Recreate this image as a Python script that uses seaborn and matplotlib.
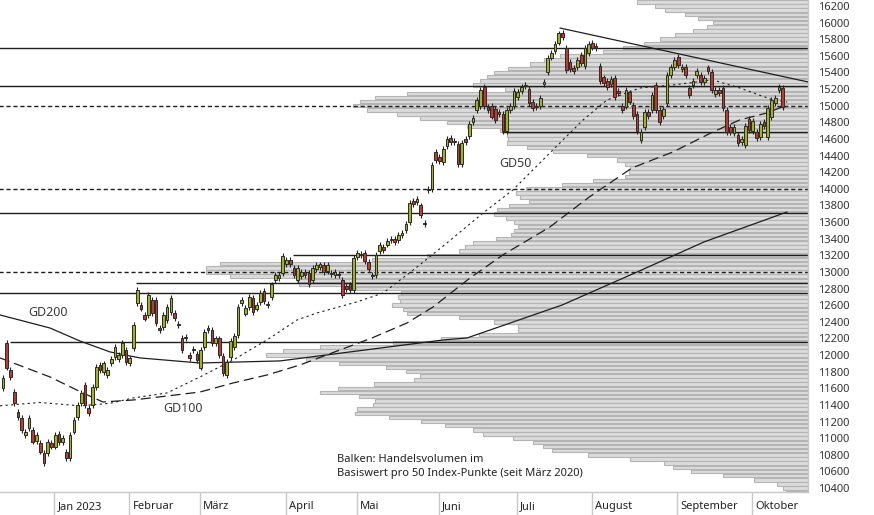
import numpy as np
import matplotlib
matplotlib.use('Agg')
import matplotlib.pyplot as plt
import matplotlib.transforms as mtrans
import seaborn as sns

# --- Kerzen (Handelstage 12.12.2022 - 12.10.2023) ---
opens = [11600, 12150, 11820, 11560, 11320, 11240, 11040, 11120, 11100, 10970, 10940, 10820, 10820, 10940,
         10900, 11050, 10950, 10840, 10760, 11080, 11260, 11420, 11640, 11360, 11400, 11620, 11880, 11800,
         11760, 11900, 11980, 11950, 12000, 12060,
         11900, 12080, 12630, 12600, 12480, 12480, 12660, 12660, 12330, 12340, 12420, 12520, 12510, 12380,
         12210, 12220, 12000, 12070, 12010,
         11850, 12100, 12330, 12300, 12150, 12200, 11990, 11760, 11980, 12100, 12240, 12630, 12500, 12580,
         12690, 12560, 12640, 12770, 12620, 12700, 12900, 12930, 12990,
         13100, 13150, 13050, 12900, 12950, 13000, 12990, 12900, 13030, 13060, 13080, 13010, 12980, 12960,
         12980, 12900, 12830, 12850, 12780,
         13180, 13200, 13230, 13120, 12960, 12960, 13250, 13300, 13330, 13380, 13400, 13380, 13440, 13500,
         13600, 13850, 13840, 13800, 13590, 13990, 14000, 14440,
         14380, 14320, 14520, 14610, 14560, 14540, 14300, 14600, 14640, 14800, 14950, 15000, 15230, 14990,
         15000, 14960, 14920, 14900, 14700, 14950, 15000,
         15100, 15180, 15240, 15200, 15050, 14980, 15000, 15260, 15400, 15580, 15660, 15760, 15880, 15700,
         15530, 15450, 15470, 15610, 15480, 15630,
         15760, 15720, 15480, 15340, 15300, 15260, 15330, 15180, 15000, 14990, 15160, 15010, 14900, 14590,
         14745, 14920, 14950, 15250, 14950, 14880, 15030, 15370, 15460,
         15590, 15440, 15465, 15210, 15250, 15370, 15370, 15290, 15460, 15405, 15140, 15190, 15215, 14950,
         14745, 14670, 14650, 14560, 14530, 14845,
         14700, 14685, 14620, 14800, 14625, 14865, 15030, 15190, 15215]
closes = [11730, 11850, 11740, 11420, 11260, 11100, 11080, 11240, 10960, 11040, 10840, 10700, 10950, 10900,
          11040, 10950, 11000, 10760, 11040, 11220, 11400, 11540, 11400, 11300, 11620, 11860, 11820, 11900,
          11820, 11950, 12100, 12000, 12150, 11920,
          11960, 12360, 12780, 12560, 12440, 12720, 12510, 12390, 12300, 12480, 12580, 12690, 12450, 12360,
          12060, 12200, 11970, 12060, 11940,
          12060, 12280, 12300, 12150, 12200, 12000, 11780, 11920, 12170, 12230, 12580, 12660, 12570, 12700,
          12520, 12600, 12750, 12650, 12600, 12850, 12960, 12960, 13190,
          13140, 13100, 12960, 13050, 13000, 12960, 12850, 13050, 13080, 13090, 13000, 13080, 12990, 13000,
          12960, 12720, 12800, 12780, 13170,
          13230, 13220, 13130, 13030, 12950, 13200, 13330, 13260, 13370, 13400, 13360, 13450, 13470, 13580,
          13830, 13820, 13880, 13680, 13580, 14000, 14290, 14350,
          14330, 14480, 14600, 14560, 14580, 14300, 14550, 14560, 14780, 14850, 15070, 15190, 15000, 14950,
          14870, 14830, 14900, 14700, 14950, 15000, 15180,
          15170, 15230, 15250, 15030, 14970, 15000, 15090, 15290, 15570, 15640, 15740, 15870, 15830, 15430,
          15440, 15420, 15550, 15510, 15700, 15740,
          15700, 15690, 15300, 15270, 15220, 15320, 15100, 15150, 14950, 15190, 15050, 14880, 14700, 14680,
          14925, 14880, 15130, 14950, 14800, 14960, 15370, 15470, 15550,
          15490, 15470, 15370, 15130, 15300, 15420, 15290, 15330, 15420, 15190, 15190, 15150, 14975, 14685,
          14685, 14750, 14550, 14600, 14760, 14710,
          14820, 14615, 14780, 14760, 14975, 15070, 15090, 15225, 14985]

month_start = [14, 34, 53, 76, 95, 117, 138, 158, 181, 201]
month_labels = ["Jan 2023", "Februar", "März", "April", "Mai", "Juni", "Juli", "August", "September", "Oktober"]

# --- Gleitende Durchschnitte (Tagesindex, Wert) ---
gd50_x = [-0.8, 9.9, 20.6, 28.7, 34.9, 44, 52.8, 61.7, 71.6, 78.8, 84.2, 94.9, 101.9, 111, 119, 128.7,
          136.7, 146.6, 155.5, 161.9, 170.8, 179.6, 190.3, 197.5, 206.4, 210.2]
gd50_y = [11390, 11430, 11390, 11420, 11484, 11545, 11737, 11941, 12206, 12422, 12507, 12640, 12747, 13060,
          13349, 13710, 13987, 14432, 14829, 15069, 15214, 15250, 15310, 15214, 15069, 15045]
gd100_x = [-0.8, 12.6, 21.4, 26.8, 34.9, 44, 52.8, 61.7, 70.8, 79.6, 98.9, 108.3, 115.3, 125.2, 134,
           146.6, 156.8, 168.6, 179.6, 190.3, 197.5, 204.8, 210.2]
gd100_y = [11966, 11737, 11545, 11436, 11460, 11508, 11556, 11665, 11761, 11881, 12206, 12386, 12579, 12928,
           13205, 13541, 13890, 14251, 14444, 14684, 14829, 14913, 15009]
gd200_x = [-0.8, 12.6, 20.6, 28.7, 36.7, 52.8, 74.3, 118, 124.4, 149.9, 170, 187.9, 210.2]
gd200_y = [12483, 12326, 12170, 12038, 11966, 11905, 11930, 12182, 12206, 12603, 13000, 13361, 13722]

# --- Trendlinie und horizontale Marken ---
trend_x = [149.3, 215.8]
trend_y = [15935, 15286]
hl_level = [15700, 15240, 15000, 14680, 14000, 13710, 13200, 13000, 12870, 12750, 12160]
hl_start = [-1, -1, -1, 133.8, -1, -1, 77.7, -1, 35.7, -1, 1.9]
hl_dashed = [False, False, True, False, True, False, False, True, False, False, False]

# --- Volumenprofil: Länge pro 50-Punkte-Stufe, von 16250 abwärts ---
profile_len = [171, 153, 143, 123, 110, 95, 101, 115, 133, 148, 164, 185, 205, 248, 264, 278, 300, 314, 321,
               328, 335, 303, 401, 433, 448, 455, 441, 411, 388, 361, 341, 308, 301, 300, 301, 281, 255, 221,
               191, 183, 178, 179, 183, 215, 246, 282, 292, 288, 279, 299, 311, 314, 302, 294, 290, 294, 297,
               312, 335, 343, 349, 381, 436, 588, 602, 602, 578, 511, 509, 452, 407, 410, 408, 416, 405, 401,
               349, 314, 290, 290, 329, 367, 415, 488, 525, 542, 502, 469, 422, 402, 388, 394, 434, 470, 488,
               449, 433, 435, 451, 453, 419, 387, 363, 335, 325, 295, 275, 265, 256, 220, 178, 144, 135, 117,
               85, 54, 31, 25, 22]
profile_level = 16250 - 50 * np.arange(len(profile_len))

px_per_day = 3.73
n = len(closes)
idx = np.arange(n)
o = np.array(opens)
c = np.array(closes)
top = np.maximum(o, c)
bot = np.minimum(o, c)

sns.set_style("white")
plt.rcParams['font.family'] = ['Noto Sans', 'DejaVu Sans']

fig = plt.figure(figsize=(8.74, 5.15), dpi=100)
ax = fig.add_axes([0, 1 - 492 / 515, 808 / 874, 492 / 515])
x0, x1 = -0.8, 215.8
ax.set_xlim(x0, x1)
ax.set_ylim(10353, 16272)

# Volumenprofil
lens = np.array(profile_len) / px_per_day
ax.barh(profile_level, lens, left=x1 - lens, height=42, color='#dcdcdc', edgecolor='#b4b4b4',
        linewidth=0.8, zorder=1)

# horizontale Linien
for lv, st, ds in zip(hl_level, hl_start, hl_dashed):
    ax.hlines(lv, st, x1, color='#1e1e1e', lw=1.0, linestyles=(0, (3, 2)) if ds else 'solid', zorder=2)

# gleitende Durchschnitte
sns.lineplot(x=gd50_x, y=gd50_y, ax=ax, color='#1e1e1e', lw=0.8, linestyle=(0, (2, 3)), zorder=3)
sns.lineplot(x=gd100_x, y=gd100_y, ax=ax, color='#1e1e1e', lw=0.9, linestyle=(0, (8, 4)), zorder=3)
sns.lineplot(x=gd200_x, y=gd200_y, ax=ax, color='#1e1e1e', lw=0.9, zorder=3)
ax.plot(trend_x, trend_y, color='#1e1e1e', lw=0.9, zorder=3)

# Kerzen
ax.vlines(idx, bot - 35, top + 35, color='#222222', lw=0.8, zorder=4)
cols = np.where(c >= o, '#a3b31c', '#c0392b')
ax.bar(idx, np.maximum(top - bot, 12), bottom=bot, width=0.72, color=cols, edgecolor='#2a2a2a',
       linewidth=0.7, zorder=5)

# Beschriftungen
txt = dict(fontsize=9, color='#3a3a3a', zorder=6)
ax.text(6.7, 12507, "GD200", va='center', **txt)
ax.text(42.9, 11352, "GD100", va='center', **txt)
ax.text(133, 14311, "GD50", va='center', **txt)
ax.text(89.5, 10660, "Balken: Handelsvolumen im\nBasiswert pro 50 Index-Punkte (seit März 2020)",
        fontsize=8, color='#222222', va='center', linespacing=1.3, zorder=6)

# Achsen
ax.yaxis.tick_right()
ax.set_yticks(np.arange(10400, 16201, 200))
ax.tick_params(axis='y', length=0, pad=7, labelsize=8, labelcolor='#333333')
ax.set_xticks([])
for s in ['top', 'left']:
    ax.spines[s].set_visible(False)
for s in ['right', 'bottom']:
    ax.spines[s].set_color('#c8c8c8')
    ax.spines[s].set_linewidth(1.0)

trans = mtrans.blended_transform_factory(ax.transData, ax.transAxes)
for ms, lab in zip(month_start, month_labels):
    xm = ms - 0.2
    ax.plot([xm, xm], [0, -0.05], transform=trans, color='#c8c8c8', lw=1.0, clip_on=False)
    ax.text(xm + 0.9, -0.03, lab, transform=trans, fontsize=8, color='#222222', ha='left', va='center')

fig.savefig("out.png", dpi=100)
